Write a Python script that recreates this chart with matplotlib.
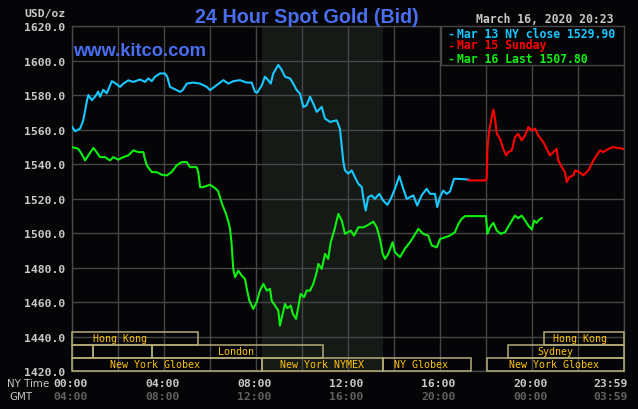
import numpy as np
import matplotlib.pyplot as plt
from matplotlib.patches import Rectangle
import matplotlib.transforms as mtransforms

# ---- data (hours NY time, USD/oz) ----
mar13_t = [0.0, 0.13, 0.35, 0.49, 0.64, 0.71, 0.86, 1.0, 1.14, 1.22, 1.36, 1.51, 1.73, 1.87,
           2.09, 2.23, 2.45, 2.67, 2.96, 3.17, 3.32, 3.47, 3.61, 3.83, 4.04, 4.14, 4.26, 4.48,
           4.70, 4.81, 4.99, 5.27, 5.57, 5.86, 6.0, 6.29, 6.58, 6.80, 7.01, 7.30, 7.60, 7.81,
           7.96, 8.06, 8.25, 8.39, 8.53, 8.64, 8.75, 8.97, 9.12, 9.26, 9.48, 9.62, 9.77, 9.91,
           10.06, 10.20, 10.35, 10.49, 10.64, 10.86, 11.0, 11.22, 11.51, 11.65, 11.80, 11.87,
           12.01, 12.16, 12.30, 12.45, 12.60, 12.67, 12.77, 12.88, 13.03, 13.17, 13.36, 13.53,
           13.71, 13.86, 14.04, 14.23, 14.38, 14.55, 14.70, 14.84, 15.01, 15.20, 15.42, 15.57,
           15.78, 15.88, 16.0, 16.14, 16.29, 16.43, 16.61, 16.80, 17.23]
mar13_p = [1561.6, 1559.0, 1560.5, 1565.3, 1576.0, 1580.0, 1577.0, 1579.0, 1582.0, 1579.0,
           1583.0, 1581.0, 1588.0, 1587.0, 1584.7, 1586.6, 1588.5, 1587.6, 1589.0, 1587.6,
           1589.6, 1588.0, 1590.6, 1592.5, 1592.5, 1590.6, 1584.7, 1583.3, 1581.8, 1582.8,
           1586.6, 1587.2, 1586.6, 1584.7, 1582.8, 1585.7, 1588.6, 1586.6, 1588.0, 1588.6,
           1587.2, 1587.2, 1581.8, 1581.4, 1585.6, 1590.6, 1588.6, 1586.6, 1592.5, 1597.4,
           1594.5, 1590.6, 1589.6, 1586.6, 1582.8, 1580.9, 1573.1, 1574.0, 1579.0, 1575.0,
           1570.2, 1573.1, 1566.3, 1564.4, 1565.3, 1560.5, 1541.0, 1536.3, 1534.4, 1536.3,
           1532.4, 1528.5, 1526.6, 1519.8, 1513.0, 1520.8, 1521.8, 1519.8, 1522.7, 1518.8,
           1516.3, 1519.8, 1525.6, 1533.0, 1526.6, 1519.8, 1520.8, 1521.8, 1515.9, 1521.8,
           1525.6, 1522.7, 1522.7, 1515.0, 1520.8, 1524.6, 1522.7, 1524.0, 1531.4, 1531.4,
           1531.0]

mar15_t = [17.23, 18.0, 18.03, 18.06, 18.14, 18.25, 18.32, 18.39, 18.47, 18.61, 18.75, 18.87,
           18.97, 19.12, 19.26, 19.40, 19.55, 19.70, 19.84, 19.99, 20.13, 20.27, 20.49, 20.64,
           20.78, 20.93, 21.07, 21.14, 21.29, 21.43, 21.51, 21.62, 21.80, 21.87, 22.06, 22.23,
           22.45, 22.67, 22.81, 22.96, 23.10, 23.32, 23.53, 23.75, 23.97]
mar15_p = [1530.5, 1530.5, 1531.4, 1548.8, 1559.4, 1567.2, 1571.6, 1566.3, 1557.5, 1554.6,
           1548.8, 1545.0, 1546.9, 1547.9, 1555.6, 1557.5, 1553.7, 1556.6, 1561.4, 1559.4,
           1560.5, 1556.6, 1552.7, 1548.8, 1545.0, 1546.9, 1548.8, 1542.1, 1538.2, 1535.3,
           1529.5, 1532.4, 1533.4, 1536.3, 1535.3, 1533.4, 1536.3, 1542.1, 1545.0, 1547.9,
           1546.9, 1548.8, 1549.8, 1549.3, 1548.8]

mar16_t = [0.0, 0.27, 0.42, 0.57, 0.71, 0.93, 1.07, 1.22, 1.43, 1.65, 1.80, 2.01, 2.23, 2.45,
           2.67, 2.88, 3.10, 3.17, 3.25, 3.47, 3.68, 3.90, 4.12, 4.33, 4.55, 4.77, 4.99, 5.13,
           5.42, 5.49, 5.57, 5.71, 6.0, 6.22, 6.35, 6.52, 6.70, 6.83, 6.87, 6.94, 7.01, 7.09,
           7.23, 7.38, 7.52, 7.60, 7.71, 7.88, 8.03, 8.17, 8.32, 8.47, 8.61, 8.68, 8.83, 8.97,
           9.04, 9.16, 9.26, 9.36, 9.51, 9.60, 9.74, 9.84, 9.94, 10.09, 10.20, 10.35, 10.49,
           10.64, 10.71, 10.86, 11.0, 11.14, 11.25, 11.40, 11.58, 11.73, 11.87, 12.12, 12.26,
           12.45, 12.67, 12.88, 13.10, 13.25, 13.39, 13.51, 13.61, 13.75, 13.94, 14.04, 14.26,
           14.48, 14.70, 15.06, 15.27, 15.49, 15.64, 15.86, 16.0, 16.22, 16.43, 16.65, 16.80,
           16.94, 17.09, 18.0, 18.06, 18.17, 18.32, 18.47, 18.64, 18.83, 19.04, 19.26, 19.40,
           19.55, 19.70, 19.84, 19.99, 20.09, 20.20, 20.32, 20.42]
mar16_p = [1549.8, 1548.8, 1545.9, 1542.1, 1545.0, 1549.3, 1546.9, 1544.0, 1544.0, 1542.1,
           1544.0, 1542.5, 1544.0, 1545.0, 1547.9, 1546.9, 1546.9, 1543.0, 1539.2, 1535.3,
           1535.3, 1533.8, 1533.4, 1535.3, 1539.2, 1541.1, 1541.1, 1538.2, 1538.2, 1535.3,
           1526.6, 1526.6, 1528.0, 1526.0, 1524.4, 1517.0, 1511.0, 1505.0, 1502.4, 1493.7,
           1479.2, 1474.4, 1478.2, 1475.3, 1473.4, 1467.6, 1460.8, 1456.0, 1459.9, 1466.6,
           1470.5, 1466.6, 1467.6, 1460.8, 1457.9, 1455.0, 1446.3, 1453.1, 1458.9, 1456.4,
           1457.9, 1453.1, 1450.2, 1457.0, 1464.7, 1462.8, 1466.6, 1466.6, 1470.5, 1477.3,
           1482.1, 1479.2, 1487.9, 1485.0, 1494.7, 1501.4, 1511.1, 1507.2, 1499.5, 1501.4,
           1498.5, 1503.3, 1503.3, 1504.7, 1506.6, 1503.3, 1496.5, 1487.9, 1485.0, 1487.9,
           1494.7, 1488.9, 1486.0, 1491.0, 1494.7, 1502.4, 1499.5, 1498.5, 1492.7, 1491.7,
           1496.5, 1497.5, 1498.5, 1500.5, 1505.3, 1508.2, 1509.8, 1509.8, 1499.5, 1503.3,
           1505.9, 1501.4, 1499.5, 1500.5, 1505.3, 1510.1, 1508.6, 1510.1, 1507.2, 1504.3,
           1502.0, 1507.2, 1505.9, 1507.8, 1508.6]

legend_labels = ["Mar 13 NY close 1529.90", "Mar 15 Sunday", "Mar 16 Last 1507.80"]
ny_labels = ["00:00", "04:00", "08:00", "12:00", "16:00", "20:00", "23:59"]
gmt_labels = ["04:00", "08:00", "12:00", "16:00", "20:00", "00:00", "03:59"]
label_hours = [0, 4, 8, 12, 16, 20, 23.98]

# sessions: (row, start, end, name, label hour)
sessions = [
    (0, 0.0, 5.47, "Hong Kong", 2.09),
    (0, 20.5, 24.0, "Hong Kong", 22.09),
    (1, 0.0, 0.93, "", 0),
    (1, 0.93, 3.47, "", 0),
    (1, 3.47, 10.93, "London", 7.13),
    (1, 18.97, 24.0, "Sydney", 21.0),
    (2, 0.0, 8.25, "New York Globex", 3.61),
    (2, 8.25, 13.5, "New York NYMEX", 10.89),
    (2, 13.5, 17.33, "NY Globex", 15.17),
    (2, 18.03, 24.0, "New York Globex", 20.96),
]
comex_open, comex_close = 8.25, 13.5

BG = '#050508'
GRID = '#464646'
CYAN = '#18c8ff'
RED = '#ff0000'
GREEN = '#10f010'
KHAKI = '#b4ac78'
GOLD = '#ffc40a'
MONO = 'DejaVu Sans Mono'

fig = plt.figure(figsize=(6.38, 4.10), dpi=100, facecolor=BG)
ax = fig.add_axes([72/638, 38/410, 552/638, 345/410], facecolor=BG)
ax.set_xlim(0, 24)
ax.set_ylim(1420, 1620)

ax.axvspan(comex_open, comex_close, color='#161a16', zorder=0, lw=0)

ax.set_xticks(np.arange(0, 25, 2))
ax.set_yticks(np.arange(1420, 1621, 20))
ax.grid(True, color=GRID, lw=1.0, zorder=1)
ax.tick_params(length=0, labelbottom=False, labelleft=True, pad=5)
ax.set_yticklabels(["%.1f" % v for v in np.arange(1420, 1621, 20)],
                   color='#c8c8c8', fontsize=8.2, family=MONO, fontweight='bold')
for s in ax.spines.values():
    s.set_color(GRID)
    s.set_linewidth(1.0)

ax.plot(mar13_t, mar13_p, color=CYAN, lw=1.5, zorder=3)
ax.plot(mar15_t, mar15_p, color=RED, lw=1.5, zorder=3)
ax.plot(mar16_t, mar16_p, color=GREEN, lw=1.5, zorder=3)

# session boxes
trans = mtransforms.blended_transform_factory(ax.transData, ax.transAxes)
row_h = 13 / 345
for row, t0, t1, name, lx in sessions:
    y0 = (2 - row) * row_h
    ax.add_patch(Rectangle((t0, y0), t1 - t0, row_h, transform=trans, fill=False,
                           edgecolor=KHAKI, lw=1.1, zorder=4, clip_on=False))
    if name:
        ax.text(lx, y0 + row_h / 2, name, transform=trans, ha='center', va='center',
                color=GOLD, fontsize=7.2, family=MONO, zorder=5)

# legend box
ax.add_patch(Rectangle((0.668, 0.886), 0.332, 0.114, transform=ax.transAxes,
                       facecolor=BG, edgecolor=GRID, lw=1.0, zorder=6))
for lbl, col, yp in zip(legend_labels, [CYAN, RED, GREEN], [34.2, 45.8, 59.2]):
    yf = (372 - yp) / 345
    ax.text((447 - 72) / 552, yf, "-", transform=ax.transAxes, ha='left', va='center',
            color=col, fontsize=8.3, family=MONO, fontweight='bold', zorder=7)
    ax.text((457 - 72) / 552, yf, lbl, transform=ax.transAxes, ha='left', va='center',
            color=col, fontsize=8.3, family=MONO, fontweight='bold', zorder=7)

# time labels under axis
tb = mtransforms.blended_transform_factory(ax.transData, fig.transFigure)
for h, a, b in zip(label_hours, ny_labels, gmt_labels):
    xh = h if h < 23 else 23.48
    ax.text(xh - 0.07, 1 - 384 / 410, a, transform=tb, ha='center', va='center',
            color='#c8c8c8', fontsize=8.2, family=MONO, fontweight='bold', clip_on=False)
    ax.text(xh - 0.07, 1 - 397 / 410, b, transform=tb, ha='center', va='center',
            color='#606060', fontsize=8.2, family=MONO, fontweight='bold', clip_on=False)
fig.text(49 / 638, 1 - 384 / 410, "NY Time", ha='right', va='center', color='#c8c8c8',
         fontsize=7.4, family='DejaVu Sans')
fig.text(33 / 638, 1 - 397 / 410, "GMT", ha='right', va='center', color='#c8c8c8',
         fontsize=7.4, family='DejaVu Sans')

# header texts
fig.text(307 / 638, 1 - 22.7 / 410, "24 Hour Spot Gold (Bid)", ha='center', va='baseline',
         color='#4a6ef0', fontsize=14.2, family='Liberation Sans', fontweight='bold')
fig.text(73 / 638, 1 - 56 / 410, "www.kitco.com", ha='left', va='baseline',
         color='#4a6ef0', fontsize=13.2, family='Liberation Sans', fontweight='bold')
fig.text(66 / 638, 1 - 13.5 / 410, "USD/oz", ha='right', va='center', color='#c8c8c8',
         fontsize=8.2, family=MONO, fontweight='bold')
fig.text(613 / 638, 1 - 19.5 / 410, "March 16, 2020 20:23", ha='right', va='center',
         color='#c8c8c8', fontsize=8.3, family=MONO, fontweight='bold')

fig.savefig('out.png', dpi=100, facecolor=BG)
